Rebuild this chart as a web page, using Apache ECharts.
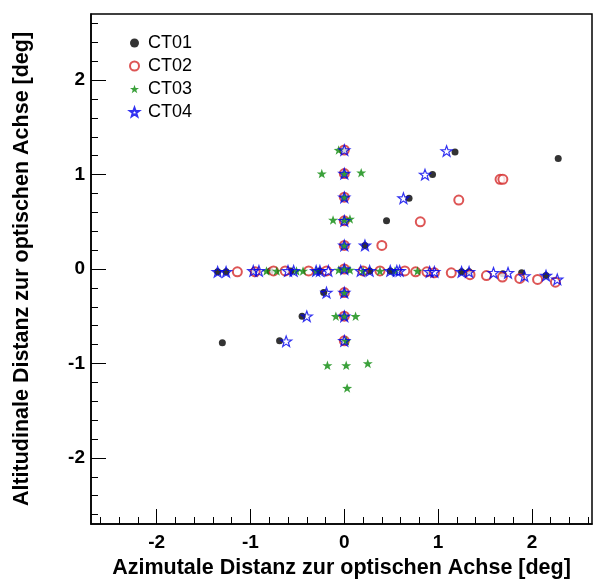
<!DOCTYPE html>
<html>
<head>
<meta charset="utf-8">
<script src="https://cdn.jsdelivr.net/npm/echarts@6/dist/echarts.min.js"></script>
<style>html,body{margin:0;padding:0;background:#fff;}#c{width:596px;height:579px;}</style>
</head>
<body>
<div id="c"></div>
<script>
const seriesNames = ['CT01', 'CT02', 'CT03', 'CT04'];
const majorTicks = [-2, -1, 0, 1, 2];
const minorTicks = [-2.6, -2.4, -2.2, -1.8, -1.6, -1.4, -1.2, -0.8, -0.6, -0.4, -0.2,
  0.2, 0.4, 0.6, 0.8, 1.2, 1.4, 1.6, 1.8, 2.2, 2.4, 2.6];
const xTitle = 'Azimutale Distanz zur optischen Achse [deg]';
const yTitle = 'Altitudinale Distanz zur optischen Achse [deg]';

const CT01 = [
  [-1.35,-0.03],[-1.26,-0.03],[-0.96,-0.02],[-0.79,-0.02],[-0.57,-0.02],[-0.26,-0.02],[0,0],
  [0.27,-0.02],[0.49,-0.02],[0.91,-0.03],[1.25,-0.03],[1.33,-0.03],[1.69,-0.05],[1.89,-0.04],[2.15,-0.07],
  [0,1.26],[0,1.01],[0,0.76],[0,0.51],[0,0.25],[0,-0.25],[0,-0.5],[0,-0.76],
  [0.22,0.25],[0.45,0.51],[0.69,0.75],[0.94,1.0],[1.18,1.24],[2.28,1.17],
  [-0.22,-0.25],[-0.45,-0.5],[-0.69,-0.76],[-1.3,-0.78]
];
const CT02 = [
  [-1.14,-0.03],[-0.95,-0.03],[-0.755,-0.02],[-0.63,-0.02],[-0.38,-0.02],[-0.19,-0.02],[0,0],
  [0.2,-0.02],[0.38,-0.02],[0.645,-0.02],[0.76,-0.03],[0.88,-0.03],[0.96,-0.04],[1.14,-0.04],
  [1.34,-0.06],[1.515,-0.07],[1.685,-0.085],[1.87,-0.1],[2.06,-0.11],[2.25,-0.14],
  [0,1.26],[0,1.01],[0,0.76],[0,0.51],[0,0.25],[0,-0.25],[0,-0.5],[0,-0.76],
  [0.4,0.25],[0.81,0.5],[1.22,0.73],[1.66,0.95],[1.69,0.95]
];
const CT03 = [
  [-0.83,-0.02],[-0.72,-0.02],[-0.51,-0.02],[-0.44,-0.02],[-0.3,-0.02],[-0.06,-0.01],[0,0],
  [0.06,-0.01],[0.2,-0.02],[0.38,-0.02],[0.54,-0.02],[0.78,-0.02],
  [-0.06,1.26],[-0.24,1.01],[0,1.01],[0.18,1.02],[0,0.76],[-0.12,0.52],[0,0.52],[0.06,0.53],
  [0,0.25],[0,-0.25],[-0.09,-0.5],[0,-0.5],[0.12,-0.5],[0.02,-0.76],
  [-0.18,-1.02],[0.02,-1.02],[0.25,-1.0],[0.03,-1.26]
];
const CT04 = [
  [-1.35,-0.03],[-1.26,-0.03],[-0.97,-0.02],[-0.91,-0.02],[-0.6,-0.02],[-0.54,-0.02],[-0.3,-0.02],
  [-0.26,-0.02],[-0.17,-0.02],[0,0],[0.175,-0.02],[0.27,-0.02],[0.49,-0.02],[0.56,-0.02],[0.59,-0.02],
  [0.91,-0.03],[0.96,-0.03],[1.25,-0.03],[1.33,-0.03],[1.59,-0.04],[1.745,-0.04],[1.92,-0.075],
  [2.15,-0.07],[2.27,-0.11],
  [0,1.26],[0,1.01],[0,0.76],[0,0.51],[0,0.25],[0,-0.25],[0,-0.5],[0,-0.76],
  [0.22,0.25],[0.63,0.75],[0.86,1.0],[1.09,1.25],[-0.19,-0.25],[-0.4,-0.5],[-0.62,-0.765]
];

const STAR = 'path://M0,-10L2.35,-3.24L9.51,-3.09L3.8,1.24L5.88,8.09L0,4L-5.88,8.09L-3.8,1.24L-9.51,-3.09L-2.35,-3.24Z';
const FONT = '"Liberation Sans", Arial, sans-serif';

const chart = echarts.init(document.getElementById('c'), null, {renderer: 'canvas'});

function mainAxis(isX) {
  return {
    type: 'value', min: -2.7, max: isX ? 2.64 : 2.7,
    position: isX ? 'bottom' : 'left',
    name: isX ? xTitle : yTitle,
    nameLocation: 'middle',
    nameGap: isX ? 31 : 58,
    nameTextStyle: {fontFamily: FONT, fontSize: 21.5, fontWeight: 'bold', color: '#000'},
    axisLine: {show: true, onZero: false, lineStyle: {color: '#000', width: 1.5}},
    axisTick: {show: true, inside: true, length: 15, customValues: majorTicks, lineStyle: {color: '#000', width: 1}},
    axisLabel: {customValues: majorTicks, fontFamily: FONT, fontSize: 19, fontWeight: 'bold', color: '#000', margin: isX ? 9 : 6},
    splitLine: {show: false}
  };
}
function minorAxis(isX) {
  return {
    type: 'value', min: -2.7, max: isX ? 2.64 : 2.7,
    position: isX ? 'bottom' : 'left', offset: 0,
    axisLine: {show: false, onZero: false},
    axisTick: {show: true, inside: true, length: 7, customValues: minorTicks, lineStyle: {color: '#000', width: 1}},
    axisLabel: {show: false},
    splitLine: {show: false}
  };
}

const styles = [
  {symbol: 'circle', symbolSize: 7, itemStyle: {color: '#000'}},
  {symbol: 'emptyCircle', symbolSize: 9, itemStyle: {color: '#d42a2a', borderColor: '#d42a2a', borderWidth: 1.2}},
  {symbol: STAR, symbolSize: 10, itemStyle: {color: '#0a8a0a'}},
  {symbol: STAR, symbolSize: 11, itemStyle: {color: 'rgba(255,255,255,0)', borderColor: '#0000ee', borderWidth: 1.2}}
];
const datas = [CT01, CT02, CT03, CT04];

chart.setOption({
  animation: false,
  backgroundColor: '#fff',
  grid: {left: 91, right: 4, top: 14, bottom: 55, outerBoundsMode: 'none', containLabel: false,
    show: true, borderColor: '#000', borderWidth: 1.5, backgroundColor: 'transparent'},
  xAxis: [mainAxis(true), minorAxis(true)],
  yAxis: [mainAxis(false), minorAxis(false)],
  legend: {
    orient: 'vertical', left: 124, top: 29, itemWidth: 9, itemHeight: 9, itemGap: 5,
    textStyle: {fontFamily: FONT, fontSize: 18, color: '#000', padding: [0, 0, 0, 4]},
    data: seriesNames
  },
  series: seriesNames.map((n, i) => Object.assign({
    name: n, type: 'scatter', data: datas[i], xAxisIndex: 0, yAxisIndex: 0, symbolKeepAspect: true
  }, styles[i]))
});
</script>
</body>
</html>
